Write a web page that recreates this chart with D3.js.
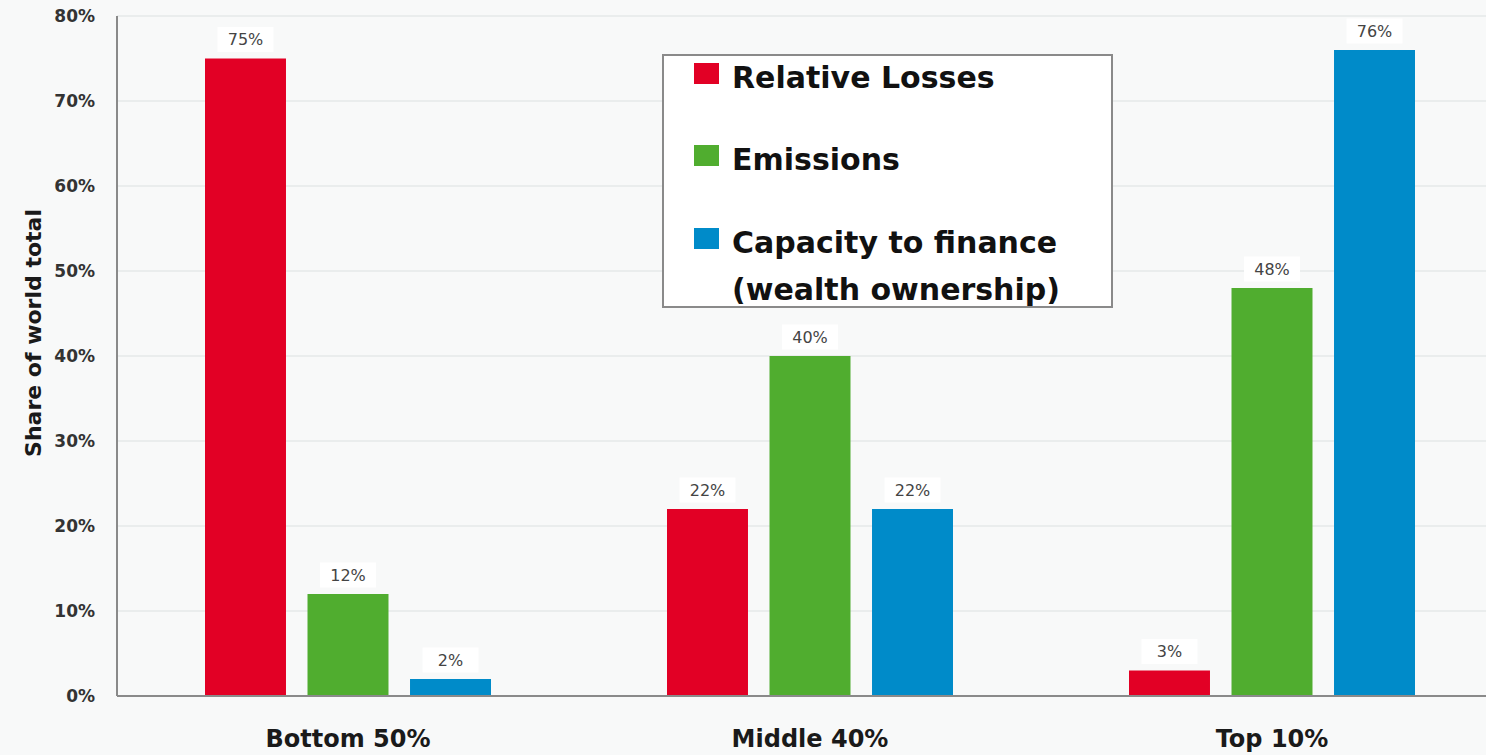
<!DOCTYPE html>
<html>
<head>
<meta charset="utf-8">
<script src="https://cdn.jsdelivr.net/npm/d3@7"></script>
<style>
  html, body { margin: 0; padding: 0; background: #f8f9f9; }
  svg { display: block; font-family: "DejaVu Sans", "Noto Sans", sans-serif; }
</style>
</head>
<body>
<svg id="chart" width="1486" height="755"></svg>
<script>
// Wealth groups and the three measures shown for each
const groups = ["Bottom 50%", "Middle 40%", "Top 10%"];
const seriesNames = ["Relative Losses", "Emissions", "Capacity to finance"];
const legendLabels = [["Relative Losses"], ["Emissions"], ["Capacity to finance", "(wealth ownership)"]];
const seriesColors = ["#e20025", "#50ad2f", "#008bc9"];

// Share of world total, in percent
const relativeLosses = [75, 22, 3];
const emissions = [12, 40, 48];
const capacityToFinance = [2, 22, 76];
const yTicks = [0, 10, 20, 30, 40, 50, 60, 70, 80];

const seriesValues = [relativeLosses, emissions, capacityToFinance];

const svg = d3.select("#chart");
const W = 1486, H = 755;
const m = { left: 117, top: 16, bottom: 59 };
const plotBottom = H - m.bottom;

const y = d3.scaleLinear().domain([0, 80]).range([plotBottom, m.top]);
const x0 = d3.scaleBand().domain(groups).range([m.left, m.left + 462 * 3]).paddingInner(0).paddingOuter(0);
const x1 = d3.scaleBand().domain(seriesNames).range([88, 374]).paddingInner(0.21).paddingOuter(0);

// Horizontal gridlines
svg.append("g")
  .selectAll("line")
  .data(yTicks.filter(t => t > 0))
  .join("line")
  .attr("x1", m.left).attr("x2", W)
  .attr("y1", d => y(d)).attr("y2", d => y(d))
  .attr("stroke", "#e6e8e8").attr("stroke-width", 1.5);

// Y axis tick labels
const yAxis = d3.axisLeft(y).tickValues(yTicks).tickFormat(d => d + "%").tickSize(0).tickPadding(22);
const gy = svg.append("g").attr("transform", `translate(${m.left},0)`).call(yAxis);
gy.select(".domain").remove();
gy.selectAll("text")
  .attr("font-size", 17).attr("font-weight", 700).attr("fill", "#333")
  .attr("font-family", "'DejaVu Sans', sans-serif");

// Bars
const groupG = svg.append("g").selectAll("g")
  .data(groups)
  .join("g")
  .attr("transform", d => `translate(${x0(d)},0)`);

const barData = (g, gi) => seriesNames.map((s, si) => ({ s, si, v: seriesValues[si][gi] }));

groupG.each(function (g, gi) {
  const sel = d3.select(this);
  const data = barData(g, gi);
  sel.selectAll("rect.bar")
    .data(data)
    .join("rect")
    .attr("class", "bar")
    .attr("x", d => x1(d.s))
    .attr("width", x1.bandwidth())
    .attr("y", d => y(d.v))
    .attr("height", d => y(0) - y(d.v))
    .attr("fill", d => seriesColors[d.si]);

  // Value labels on a white tag
  const lab = sel.selectAll("g.lab")
    .data(data)
    .join("g")
    .attr("class", "lab")
    .attr("transform", d => `translate(${x1(d.s) + x1.bandwidth() / 2},${y(d.v) - 19})`);
  lab.append("rect")
    .attr("x", -28).attr("y", -12.5).attr("width", 56).attr("height", 25)
    .attr("fill", "#ffffff");
  lab.append("text")
    .attr("text-anchor", "middle").attr("dy", "0.35em")
    .attr("font-size", 16).attr("fill", "#444")
    .text(d => d.v + "%");
});

// Axis lines
svg.append("line")
  .attr("x1", m.left).attr("x2", m.left).attr("y1", m.top).attr("y2", plotBottom)
  .attr("stroke", "#8a8a8a").attr("stroke-width", 2);
svg.append("line")
  .attr("x1", m.left).attr("x2", W).attr("y1", plotBottom).attr("y2", plotBottom)
  .attr("stroke", "#8a8a8a").attr("stroke-width", 2);

// Category labels
svg.append("g").selectAll("text")
  .data(groups)
  .join("text")
  .attr("x", d => x0(d) + 88 + 143)
  .attr("y", 747)
  .attr("text-anchor", "middle")
  .attr("font-size", 24).attr("font-weight", 700).attr("fill", "#1a1a1a")
  .text(d => d);

// Y axis title
svg.append("text")
  .attr("transform", "translate(41,333) rotate(-90)")
  .attr("text-anchor", "middle")
  .attr("font-size", 22).attr("font-weight", 700).attr("fill", "#1a1a1a")
  .text("Share of world total");

// Legend
const legend = svg.append("g");
legend.append("rect")
  .attr("x", 663).attr("y", 55).attr("width", 449).attr("height", 252)
  .attr("fill", "#ffffff").attr("stroke", "#8a8a8a").attr("stroke-width", 2);
const rowY = [88, 170, 253];
legendLabels.forEach((lines, i) => {
  legend.append("rect")
    .attr("x", 694).attr("y", rowY[i] - 25).attr("width", 25).attr("height", 21)
    .attr("fill", seriesColors[i]);
  lines.forEach((t, j) => {
    legend.append("text")
      .attr("x", 732).attr("y", rowY[i] + j * 47)
      .attr("font-size", 30).attr("font-weight", 700).attr("fill", "#111")
      .text(t);
  });
});
</script>
</body>
</html>
